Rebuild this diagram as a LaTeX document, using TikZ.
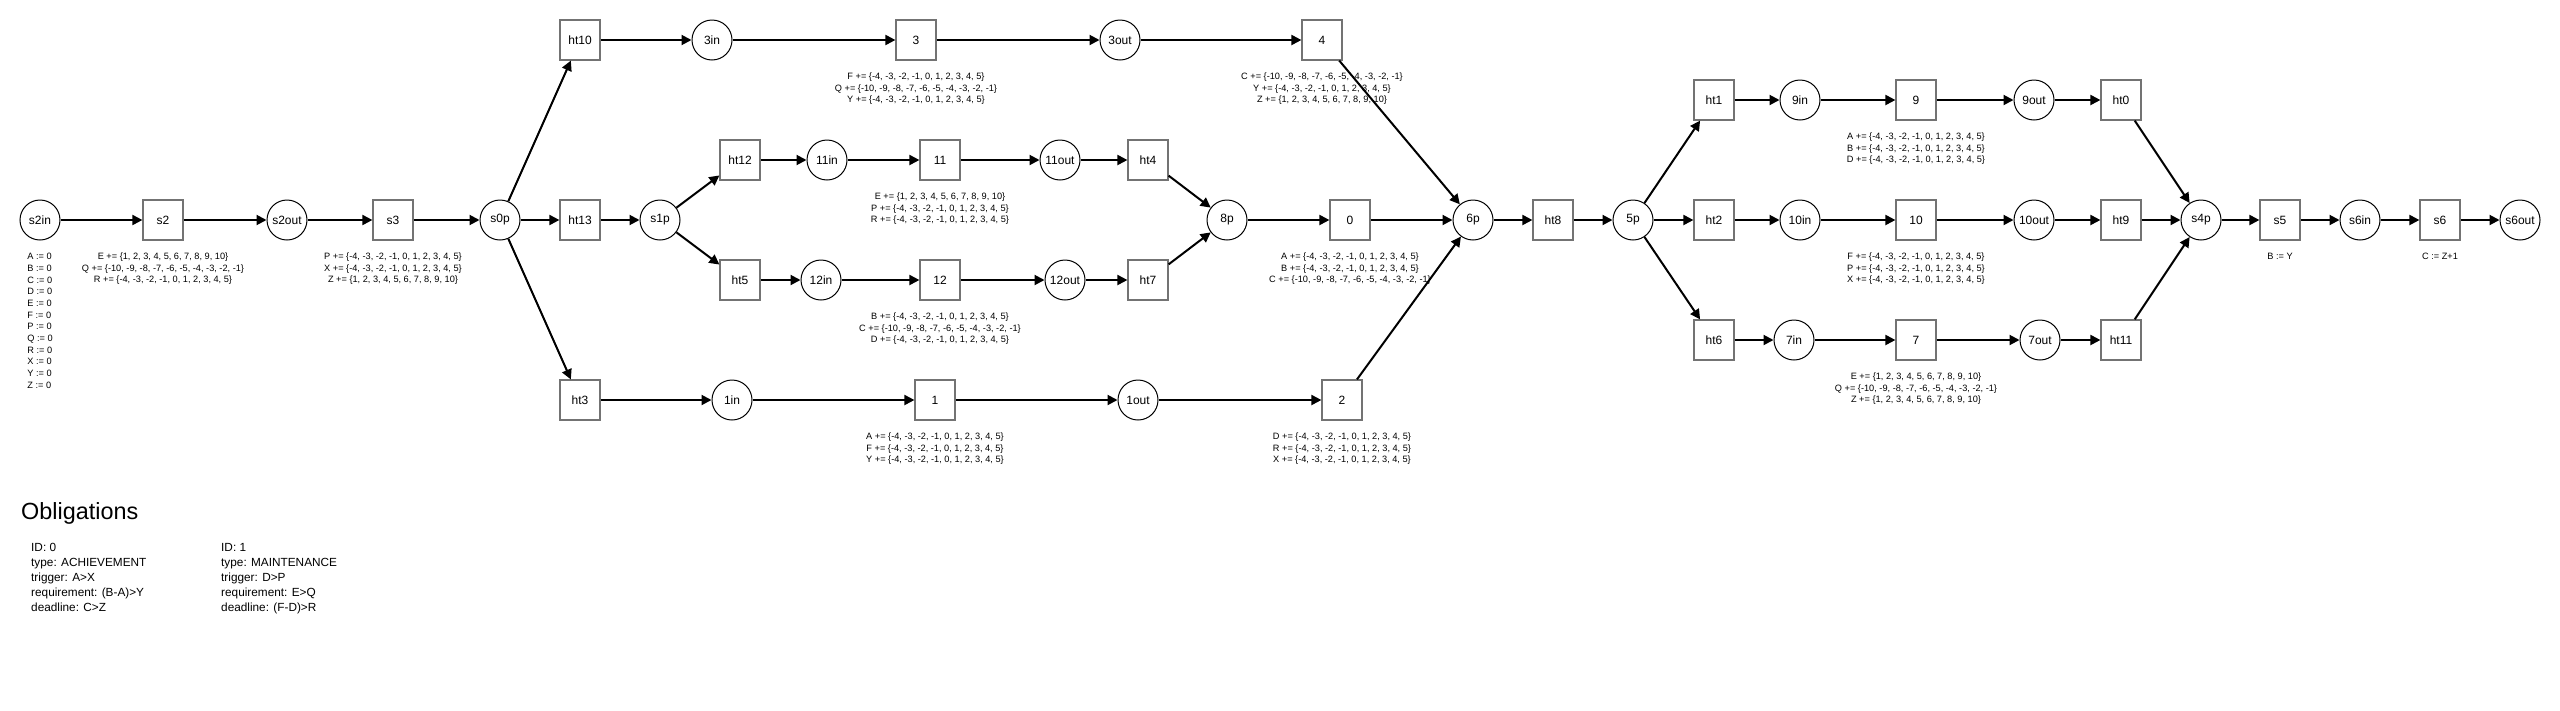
\documentclass[tikz,border=0pt]{standalone}
\usepackage{fontspec}
\setmainfont{Liberation Sans}
\usetikzlibrary{arrows.meta}
\newcommand{\rangeM}{\{-4, -3, -2, -1, 0, 1, 2, 3, 4, 5\}}
\newcommand{\rangeN}{\{-10, -9, -8, -7, -6, -5, -4, -3, -2, -1\}}
\newcommand{\rangeP}{\{1, 2, 3, 4, 5, 6, 7, 8, 9, 10\}}
\begin{document}
\begin{tikzpicture}[x=1pt, y=-1pt,
	box/.style={draw=gray!90!black, line width=1.2pt, minimum size=40pt, inner sep=0pt, font=\fontsize{12}{14}\selectfont},
	circ/.style={circle, draw, line width=1pt, minimum size=40pt, inner sep=0pt, font=\fontsize{12}{14}\selectfont},
	note/.style={anchor=north, align=center, inner sep=0pt, font=\fontsize{9.2}{11.3}\selectfont},
	arr/.style={-{Triangle[length=10pt, width=10pt]}, line width=2pt}]
	\useasboundingbox (0,0) rectangle (2560,710);
	% start
	\node[circ] (s2in) at (40,220) {s2in};
	\node[box] (s2) at (163,220) {s2};
	\node[circ] (s2out) at (287,220) {s2out};
	\node[box] (s3) at (393,220) {s3};
	\node[circ] (s0p) at (500,220) {s0p};
	\node[box] (ht10) at (580,40) {ht10};
	\node[box] (ht13) at (580,220) {ht13};
	\node[box] (ht3) at (580,400) {ht3};
	\node[circ] (s1p) at (660,220) {s1p};
	% top branch
	\node[circ] (n3in) at (712,40) {3in};
	\node[box] (n3) at (916,40) {3};
	\node[circ] (n3out) at (1120,40) {3out};
	\node[box] (n4) at (1322,40) {4};
	% inner branches
	\node[box] (ht12) at (740,160) {ht12};
	\node[circ] (n11in) at (827,160) {11in};
	\node[box] (n11) at (940,160) {11};
	\node[circ] (n11out) at (1060,160) {11out};
	\node[box] (ht4) at (1148,160) {ht4};
	\node[box] (ht5) at (740,280) {ht5};
	\node[circ] (n12in) at (821,280) {12in};
	\node[box] (n12) at (940,280) {12};
	\node[circ] (n12out) at (1065,280) {12out};
	\node[box] (ht7) at (1148,280) {ht7};
	\node[circ] (p8) at (1227,220) {8p};
	\node[box] (n0) at (1350,220) {0};
	% bottom branch
	\node[circ] (n1in) at (732,400) {1in};
	\node[box] (n1) at (935,400) {1};
	\node[circ] (n1out) at (1138,400) {1out};
	\node[box] (n2) at (1342,400) {2};
	\node[circ] (p6) at (1473,220) {6p};
	\node[box] (ht8) at (1553,220) {ht8};
	\node[circ] (p5) at (1633,220) {5p};
	% right branches
	\node[box] (ht1) at (1714,100) {ht1};
	\node[circ] (n9in) at (1800,100) {9in};
	\node[box] (n9) at (1916,100) {9};
	\node[circ] (n9out) at (2034,100) {9out};
	\node[box] (ht0) at (2121,100) {ht0};
	\node[box] (ht2) at (1714,220) {ht2};
	\node[circ] (n10in) at (1800,220) {10in};
	\node[box] (n10) at (1916,220) {10};
	\node[circ] (n10out) at (2034,220) {10out};
	\node[box] (ht9) at (2121,220) {ht9};
	\node[box] (ht6) at (1714,340) {ht6};
	\node[circ] (n7in) at (1794,340) {7in};
	\node[box] (n7) at (1916,340) {7};
	\node[circ] (n7out) at (2040,340) {7out};
	\node[box] (ht11) at (2121,340) {ht11};
	% end
	\node[circ] (s4p) at (2201,220) {s4p};
	\node[box] (s5) at (2280,220) {s5};
	\node[circ] (s6in) at (2360,220) {s6in};
	\node[box] (s6) at (2440,220) {s6};
	\node[circ] (s6out) at (2520,220) {s6out};
	% notes
	\node[note, align=left, font=\fontsize{9.2}{11.7}\selectfont] (vars) at (40,253) {A := 0\\B := 0\\C := 0\\D := 0\\E := 0\\F := 0\\P := 0\\Q := 0\\R := 0\\X := 0\\Y := 0\\Z := 0};
	\node[note] (s2note) at (163,253) {E += \rangeP\\Q += \rangeN\\R += \rangeM};
	\node[note] (s3note) at (393,253) {P += \rangeM\\X += \rangeM\\Z += \rangeP};
	\node[note] (n3note) at (916,73) {F += \rangeM\\Q += \rangeN\\Y += \rangeM};
	\node[note] (n4note) at (1322,73) {C += \rangeN\\Y += \rangeM\\Z += \rangeP};
	\node[note] (n11note) at (940,193) {E += \rangeP\\P += \rangeM\\R += \rangeM};
	\node[note] (n12note) at (940,313) {B += \rangeM\\C += \rangeN\\D += \rangeM};
	\node[note] (n0note) at (1350,253) {A += \rangeM\\B += \rangeM\\C += \rangeN};
	\node[note] (n1note) at (935,433) {A += \rangeM\\F += \rangeM\\Y += \rangeM};
	\node[note] (n2note) at (1342,433) {D += \rangeM\\R += \rangeM\\X += \rangeM};
	\node[note] (n9note) at (1916,133) {A += \rangeM\\B += \rangeM\\D += \rangeM};
	\node[note] (n10note) at (1916,253) {F += \rangeM\\P += \rangeM\\X += \rangeM};
	\node[note] (n7note) at (1916,373) {E += \rangeP\\Q += \rangeN\\Z += \rangeP};
	\node[note] (s5note) at (2280,253) {B := Y};
	\node[note] (s6note) at (2440,253) {C := Z+1};
	% connectors
	\foreach \a/\b in {s2in/s2, s2/s2out, s2out/s3, s3/s0p, s0p/ht10, s0p/ht13, s0p/ht3, ht13/s1p,
		ht10/n3in, n3in/n3, n3/n3out, n3out/n4, n4/p6,
		s1p/ht12, s1p/ht5, ht12/n11in, n11in/n11, n11/n11out, n11out/ht4, ht4/p8,
		ht5/n12in, n12in/n12, n12/n12out, n12out/ht7, ht7/p8, p8/n0, n0/p6,
		ht3/n1in, n1in/n1, n1/n1out, n1out/n2, n2/p6, p6/ht8, ht8/p5,
		p5/ht1, p5/ht2, p5/ht6, ht1/n9in, n9in/n9, n9/n9out, n9out/ht0, ht0/s4p,
		ht2/n10in, n10in/n10, n10/n10out, n10out/ht9, ht9/s4p,
		ht6/n7in, n7in/n7, n7/n7out, n7out/ht11, ht11/s4p,
		s4p/s5, s5/s6in, s6in/s6, s6/s6out}
		\draw[arr] (\a) -- (\b);
	% obligations
	\node[anchor=base west, inner sep=0pt, font=\fontsize{23.4}{28}\selectfont] (title) at (21,519) {Obligations};
	\node[anchor=north west, align=left, inner sep=0pt, font=\fontsize{11.8}{15}\selectfont] (ob0) at (31,543) {ID: 0\\type: ACHIEVEMENT\\trigger: A>X\\requirement: (B-A)>Y\\deadline: C>Z};
	\node[anchor=north west, align=left, inner sep=0pt, font=\fontsize{11.8}{15}\selectfont] (ob1) at (221,543) {ID: 1\\type: MAINTENANCE\\trigger: D>P\\requirement: E>Q\\deadline: (F-D)>R};
\end{tikzpicture}
\end{document}
